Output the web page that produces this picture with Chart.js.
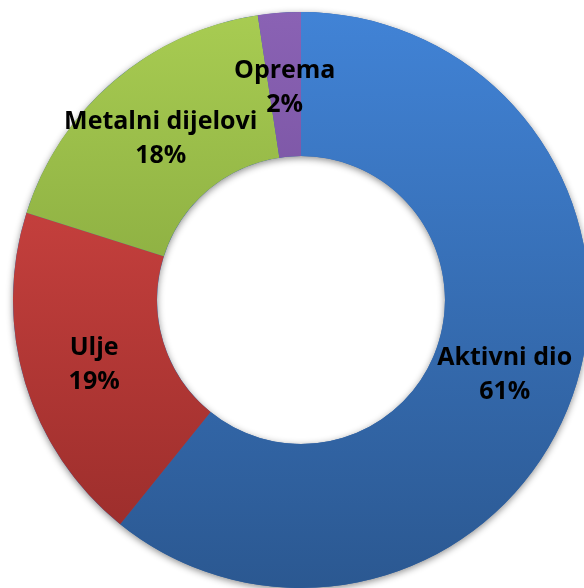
<!DOCTYPE html>
<html>
<head>
<meta charset="utf-8">
<script src="https://cdn.jsdelivr.net/npm/chart.js@4.4.1/dist/chart.umd.min.js"></script>
<style>
  html, body { margin: 0; padding: 0; background: #fff; overflow: hidden; }
  #wrap { position: absolute; left: 0; top: 0; width: 602px; height: 600px; }
</style>
</head>
<body>
<div id="wrap"><canvas id="c"></canvas></div>
<script>
// Udio dijelova (postotak), redom u smjeru kazaljke od vrha
const labels = ['Aktivni dio', 'Ulje', 'Metalni dijelovi', 'Oprema'];
const shares = [60.8, 19.1, 17.7, 2.4];
const pctText = ['61%', '19%', '18%', '2%'];

// gradijent odozgo prema dolje po segmentu
const topColors = ['#4183d6', '#dc4a47', '#a8cc52', '#8a62b4'];
const bottomColors = ['#2b5891', '#962b29', '#6f8f30', '#5f3e86'];

function fill(c) {
  const area = c.chart.chartArea;
  if (!area) return topColors[c.dataIndex];
  const g = c.chart.ctx.createLinearGradient(0, area.top, 0, area.bottom);
  g.addColorStop(0, topColors[c.dataIndex]);
  g.addColorStop(1, bottomColors[c.dataIndex]);
  return g;
}

// sjena ispod prstena
const ringShadow = {
  id: 'ringShadow',
  beforeDatasetsDraw(chart) {
    const arc = chart.getDatasetMeta(0).data[0];
    if (!arc) return;
    const { x, y, outerRadius, innerRadius } = arc.getProps(['x', 'y', 'outerRadius', 'innerRadius'], true);
    const ctx = chart.ctx;
    ctx.save();
    ctx.shadowColor = 'rgba(0,0,0,0.45)';
    ctx.shadowBlur = 7;
    ctx.shadowOffsetY = 2;
    ctx.beginPath();
    ctx.arc(x, y, outerRadius, 0, Math.PI * 2);
    ctx.arc(x, y, innerRadius, 0, Math.PI * 2, true);
    ctx.fillStyle = '#3366aa';
    ctx.fill();
    ctx.restore();
  },
};

// oznake: naziv + postotak u sredini prstena
const ringLabels = {
  id: 'ringLabels',
  afterDatasetsDraw(chart) {
    const ctx = chart.ctx;
    ctx.save();
    ctx.font = 'bold 25px "Open Sans", sans-serif';
    ctx.fillStyle = '#000';
    ctx.textAlign = 'center';
    ctx.textBaseline = 'middle';
    chart.getDatasetMeta(0).data.forEach((arc, i) => {
      const p = arc.tooltipPosition(true);
      ctx.fillText(labels[i], p.x, p.y - 14);
      ctx.fillText(pctText[i], p.x, p.y + 20);
    });
    ctx.restore();
  },
};

new Chart(document.getElementById('c'), {
  type: 'doughnut',
  data: {
    labels,
    datasets: [{
      data: shares,
      backgroundColor: fill,
      borderWidth: 0,
    }],
  },
  options: {
    responsive: true,
    maintainAspectRatio: false,
    animation: false,
    cutout: '50%',
    layout: { padding: 12 },
    plugins: {
      legend: { display: false },
      tooltip: { enabled: false },
    },
  },
  plugins: [ringShadow, ringLabels],
});
</script>
</body>
</html>
